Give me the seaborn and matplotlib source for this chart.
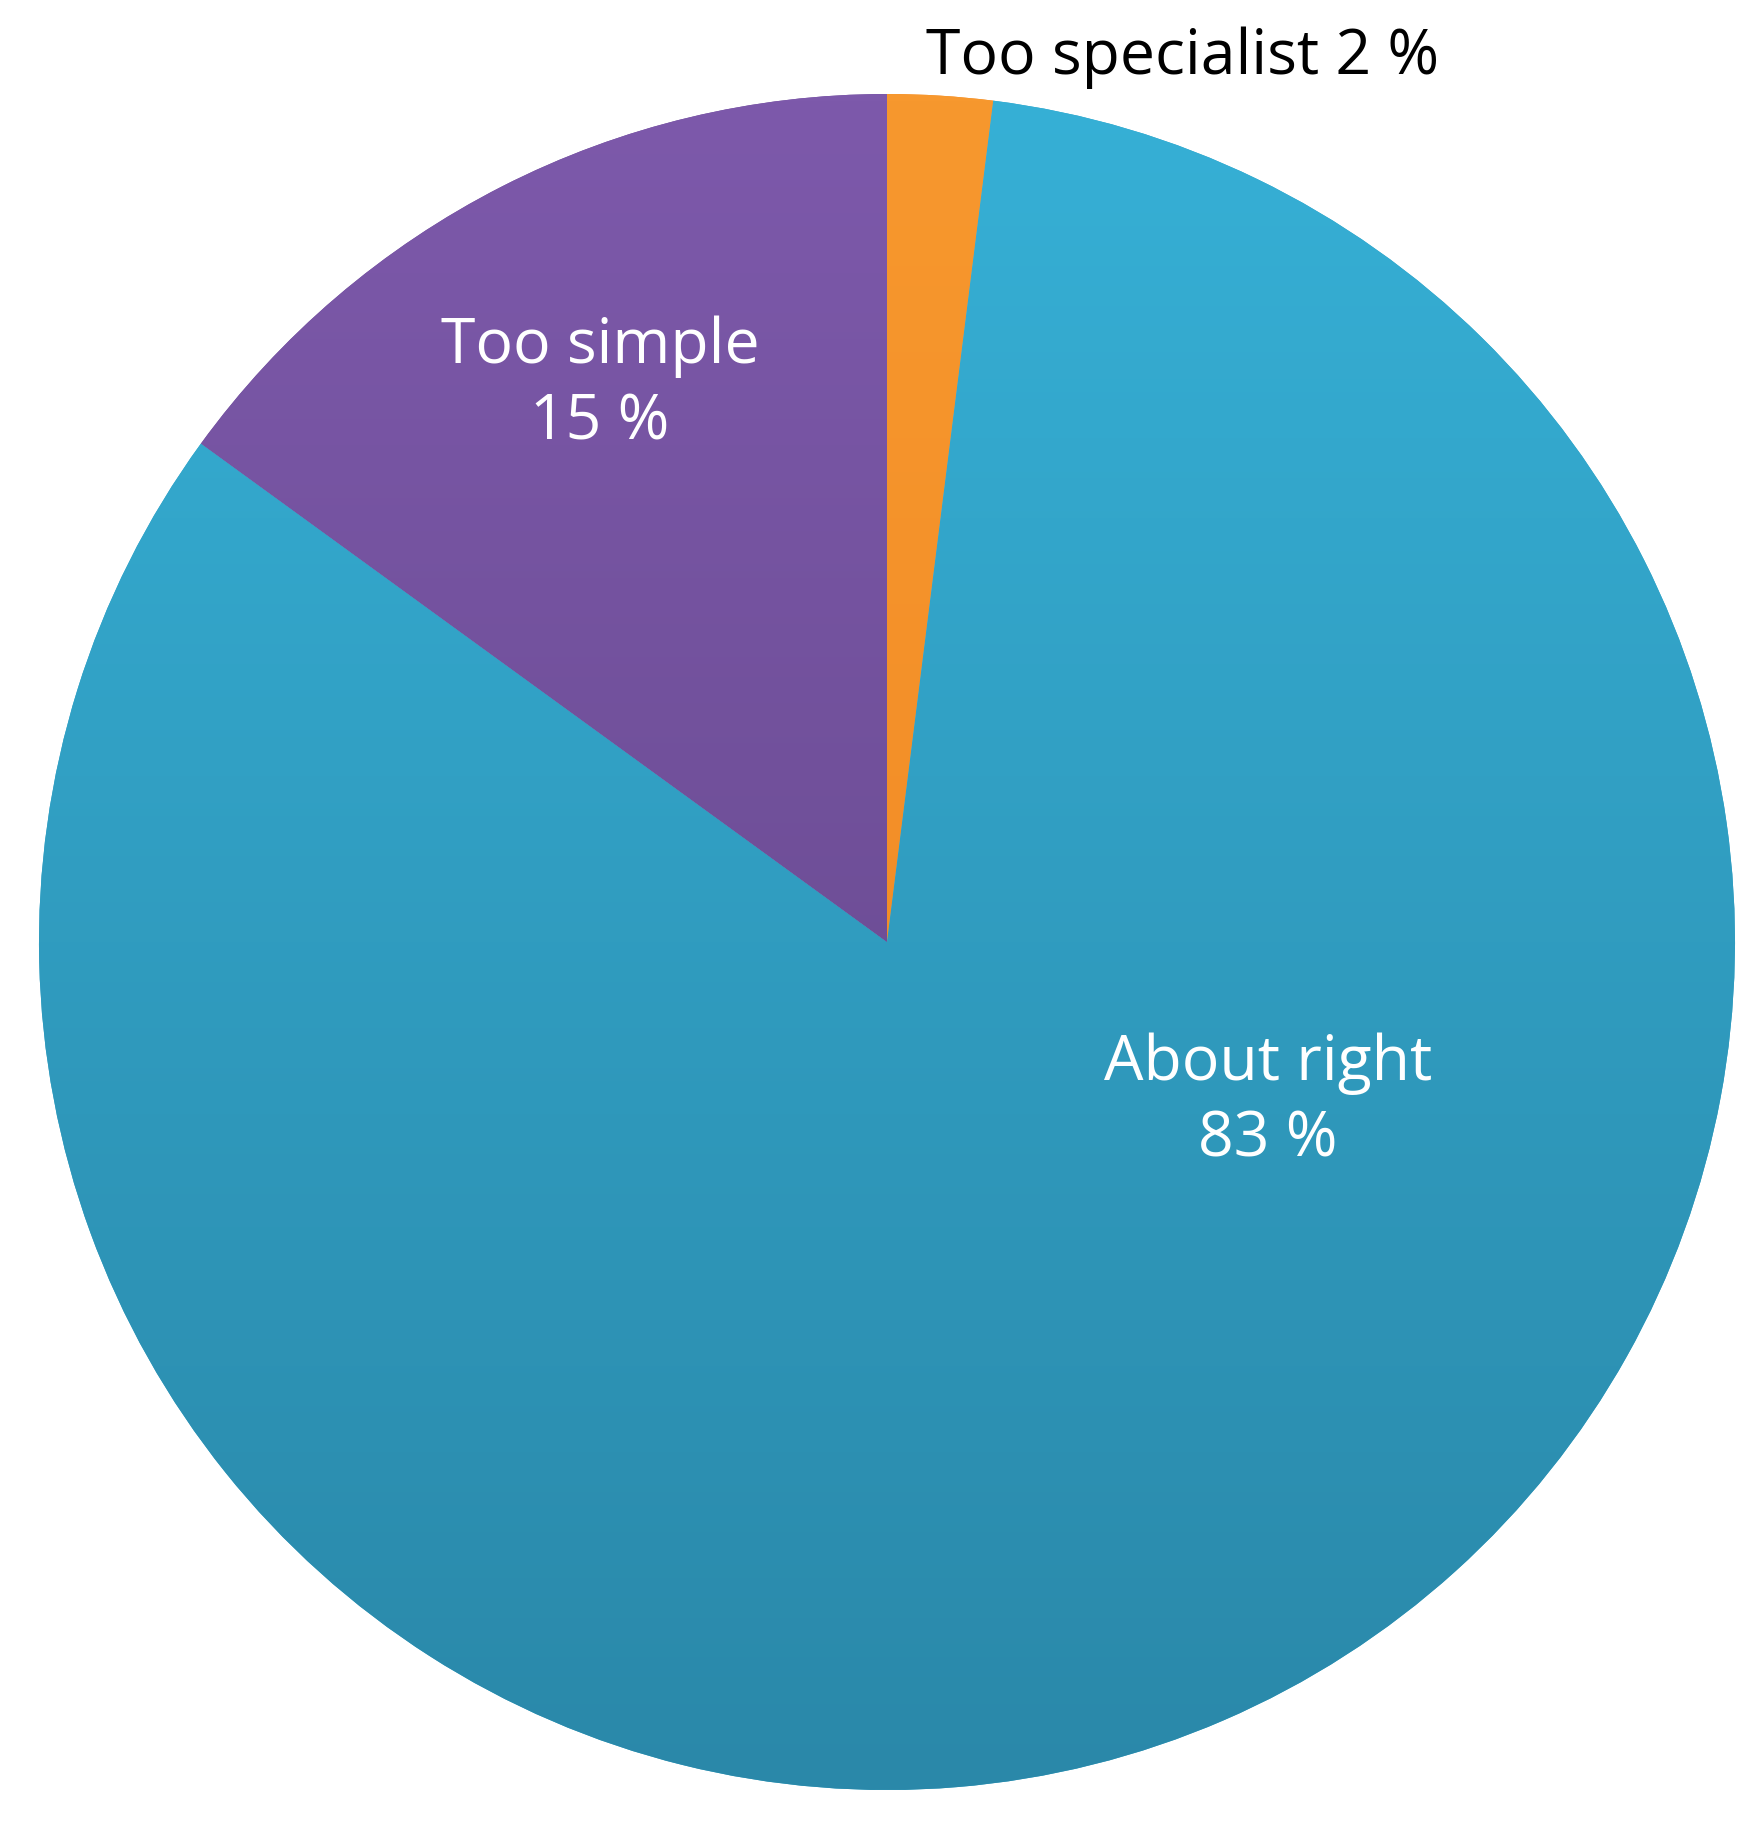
import numpy as np
import matplotlib
matplotlib.use("Agg")
import matplotlib.pyplot as plt
import seaborn as sns

# data
categories = ["Too specialist", "About right", "Too simple"]
shares = [2, 83, 15]
colors = ["#F28C28", "#31A3C8", "#71509A"]
# top/bottom gradient colours for each wedge
grad = [("#F7982E", "#EE8421"), ("#36B0D6", "#2A88A9"), ("#7D59AB", "#604484")]

sns.set_theme(style="white")
plt.rcParams["font.family"] = ["Open Sans", "DejaVu Sans"]

W, H = 1763, 1829
fig = plt.figure(figsize=(W / 100, H / 100), dpi=100)
ax = fig.add_axes([0, 0, 1, 1])
ax.set_xlim(0, W)
ax.set_ylim(H, 0)
ax.set_aspect("equal")
ax.axis("off")

cx, cy, r = 887, 942, 848
# pie drawn with y axis flipped: counterclock=True gives clockwise on screen
wedges, _ = ax.pie(shares, colors=colors, startangle=-90, counterclock=True,
                   center=(cx, cy), radius=r, frame=True,
                   wedgeprops=dict(edgecolor="none"))
ax.set_xlim(0, W)
ax.set_ylim(H, 0)
ax.axis("off")

# vertical gradients clipped to each wedge
for w, (top, bot) in zip(wedges, grad):
    cmap = matplotlib.colors.LinearSegmentedColormap.from_list("g", [top, bot])
    img = ax.imshow(np.linspace(0, 1, 256).reshape(-1, 1), cmap=cmap, aspect="auto",
                    extent=(cx - r, cx + r, cy + r, cy - r), zorder=w.get_zorder() + 0.1)
    img.set_clip_path(w)

fs = 45
ax.text(1183, 58, f"{categories[0]} {shares[0]} %", color="black", fontsize=fs,
        ha="center", va="center")
ax.text(600, 385, f"{categories[2]}\n{shares[2]} %", color="white", fontsize=fs,
        ha="center", va="center", linespacing=1.3, zorder=10)
ax.text(1268, 1102, f"{categories[1]}\n{shares[1]} %", color="white", fontsize=fs,
        ha="center", va="center", linespacing=1.3, zorder=10)

fig.savefig("out.png", dpi=100, facecolor="white")
